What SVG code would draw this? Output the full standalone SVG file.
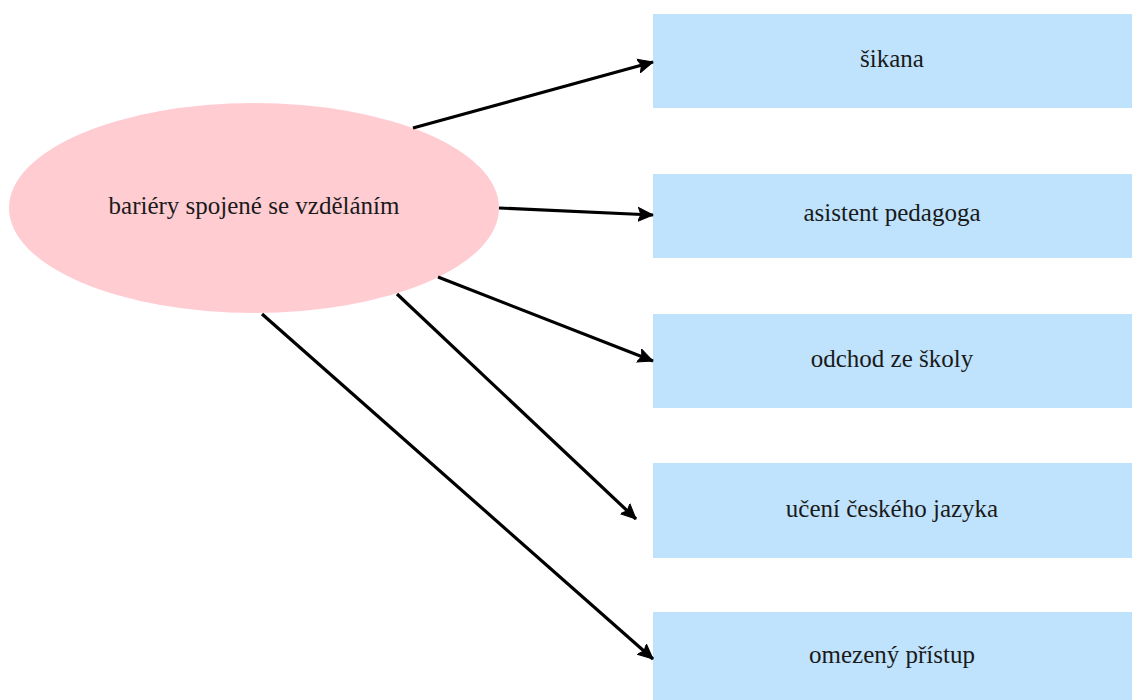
<svg xmlns="http://www.w3.org/2000/svg" width="1132" height="700" viewBox="0 0 1132 700">
<style>
text{font-family:'Liberation Serif','DejaVu Serif',serif;font-size:25px;fill:#1a1a1a;text-anchor:middle}
.box{fill:#bfe3fd}
.edge{stroke:#000;stroke-width:3.2;fill:none;marker-end:url(#arr)}
</style>
<defs>
<marker id="arr" markerUnits="userSpaceOnUse" markerWidth="18" markerHeight="16" refX="15" refY="8" orient="auto">
<path d="M0,1 L15,8 L0,15 L3,8 Z" fill="#000" stroke="#000" stroke-width="1" stroke-linejoin="round"/>
</marker>
</defs>
<rect width="1132" height="700" fill="#fff"/>
<g id="n0">
<ellipse cx="254" cy="208" rx="245" ry="105" fill="#ffccd2"/>
<text x="254" y="214" font-family="Liberation Serif, serif">bariéry spojené se vzděláním</text>
</g>
<g id="n1"><rect class="box" x="653" y="14" width="479" height="94"/><text x="892" y="67" font-family="Liberation Serif, serif">šikana</text></g>
<g id="n2"><rect class="box" x="653" y="174" width="479" height="84"/><text x="892" y="221" font-family="Liberation Serif, serif">asistent pedagoga</text></g>
<g id="n3"><rect class="box" x="653" y="314" width="479" height="94"/><text x="892" y="367" font-family="Liberation Serif, serif">odchod ze školy</text></g>
<g id="n4"><rect class="box" x="653" y="463" width="479" height="95"/><text x="892" y="517" font-family="Liberation Serif, serif">učení českého jazyka</text></g>
<g id="n5"><rect class="box" x="653" y="612" width="479" height="88"/><text x="892" y="663" font-family="Liberation Serif, serif">omezený přístup</text></g>
<g id="edges">
<line class="edge" x1="413" y1="128" x2="653" y2="62"/>
<line class="edge" x1="499" y1="208" x2="653" y2="215"/>
<line class="edge" x1="438" y1="277" x2="653" y2="361"/>
<line class="edge" x1="397" y1="294" x2="636" y2="519"/>
<line class="edge" x1="262" y1="314" x2="653" y2="659"/>
</g>
</svg>
